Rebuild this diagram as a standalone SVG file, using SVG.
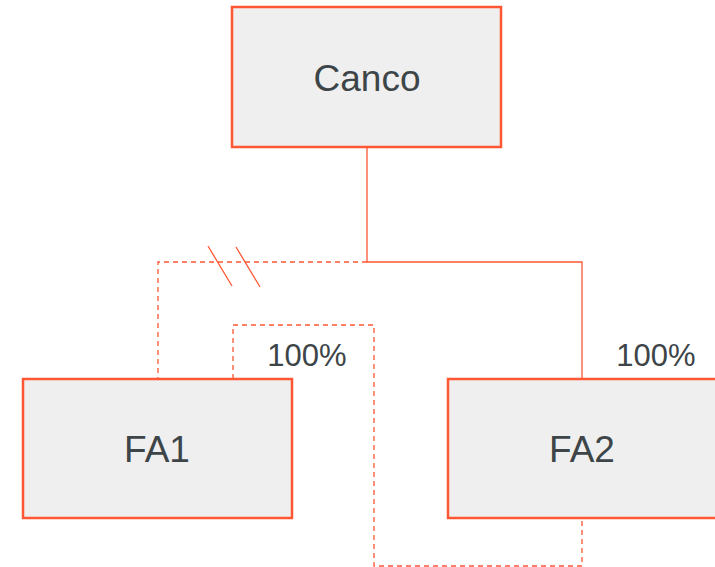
<svg xmlns="http://www.w3.org/2000/svg" width="715" height="567" viewBox="0 0 715 567">
  <style>
    .box { fill: #efefef; stroke: #ff5733; stroke-width: 2.5; }
    .lbl { font-family: "Liberation Sans", Arial, sans-serif; fill: #3d4548; text-anchor: middle; }
    .solid { fill: none; stroke: #ff5733; stroke-width: 1.3; }
    .dash { fill: none; stroke: #ff5733; stroke-width: 1.3; stroke-dasharray: 5 4; }
  </style>
  <rect width="715" height="567" fill="#ffffff"/>
  <g id="connectors">
    <path class="solid" d="M367 147 V262 H582 V379"/>
    <path class="dash" d="M367 262 H158 V379"/>
    <path class="dash" d="M233 379 V325 H374 V566 H582 V518"/>
    <path class="solid" d="M208 246 L232 286 M236 247 L260 287"/>
    <text class="lbl" x="307" y="366" font-size="31">100%</text>
    <text class="lbl" x="656" y="366" font-size="31">100%</text>
  </g>
  <g id="canco">
    <rect class="box" x="232" y="7" width="269" height="140"/>
    <text class="lbl" x="367" y="91" font-size="37">Canco</text>
  </g>
  <g id="fa1">
    <rect class="box" x="23" y="379" width="269" height="139"/>
    <text class="lbl" x="157" y="462" font-size="37">FA1</text>
  </g>
  <g id="fa2">
    <rect class="box" x="448" y="379" width="280" height="139"/>
    <text class="lbl" x="582" y="462" font-size="37">FA2</text>
  </g>
</svg>
